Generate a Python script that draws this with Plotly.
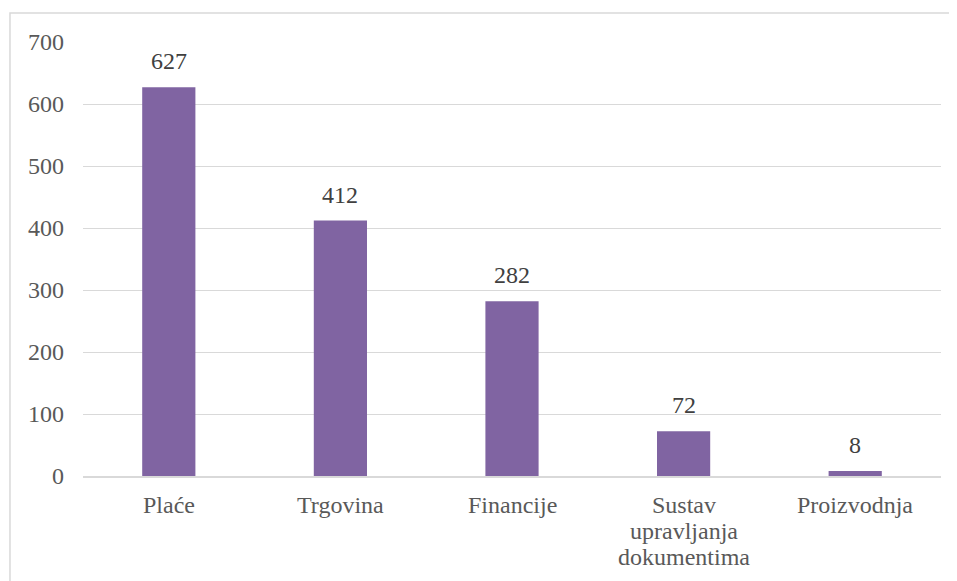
import plotly.graph_objects as go

categories = ["Plaće", "Trgovina", "Financije", "Sustav upravljanja dokumentima", "Proizvodnja"]
category_lines = [["Plaće"], ["Trgovina"], ["Financije"], ["Sustav", "upravljanja", "dokumentima"], ["Proizvodnja"]]
values = [627, 412, 282, 72, 8]
y_ticks = [0, 100, 200, 300, 400, 500, 600, 700]

font_family = "Liberation Serif, Times New Roman, serif"
FS = 24

fig = go.Figure(go.Bar(
    x=categories,
    y=values,
    marker=dict(color="#8064A2", line=dict(width=0)),
    width=0.31,
    hoverinfo="x+y",
))

annotations = []
# data labels
for c, v in zip(categories, values):
    annotations.append(dict(
        x=c, y=v, xref="x", yref="y", text=str(v), showarrow=False,
        yanchor="middle", yshift=26,
        font=dict(family=font_family, size=FS, color="#404040"),
    ))
# category labels (multi-line with tight spacing)
for c, lines in zip(categories, category_lines):
    for i, line in enumerate(lines):
        annotations.append(dict(
            x=c, y=0, xref="x", yref="y", text=line, showarrow=False,
            yanchor="middle", yshift=-29 - 26 * i,
            font=dict(family=font_family, size=FS, color="#595959"),
        ))

fig.update_layout(
    width=949, height=573,
    margin=dict(l=75, r=16, t=34, b=105),
    paper_bgcolor="white",
    plot_bgcolor="white",
    showlegend=False,
    font=dict(family=font_family, size=FS, color="#595959"),
    xaxis=dict(
        showgrid=False, showline=True, linecolor="#d9d9d9", linewidth=1.5,
        ticks="", showticklabels=False,
    ),
    yaxis=dict(
        range=[0, 700], tickvals=y_ticks, showgrid=True, gridcolor="#d9d9d9",
        gridwidth=1, zeroline=False, showline=False, ticks="",
        tickfont=dict(family=font_family, size=FS, color="#595959"),
        ticklabelstandoff=18,
    ),
    annotations=annotations,
    shapes=[dict(
        type="rect", xref="paper", yref="paper",
        x0=-0.0851, x1=1.0128, y0=-0.35, y1=1.0668,
        line=dict(color="#d9d9d9", width=1.5), fillcolor="rgba(0,0,0,0)", layer="below",
    )],
)

fig.write_html("out.html")
